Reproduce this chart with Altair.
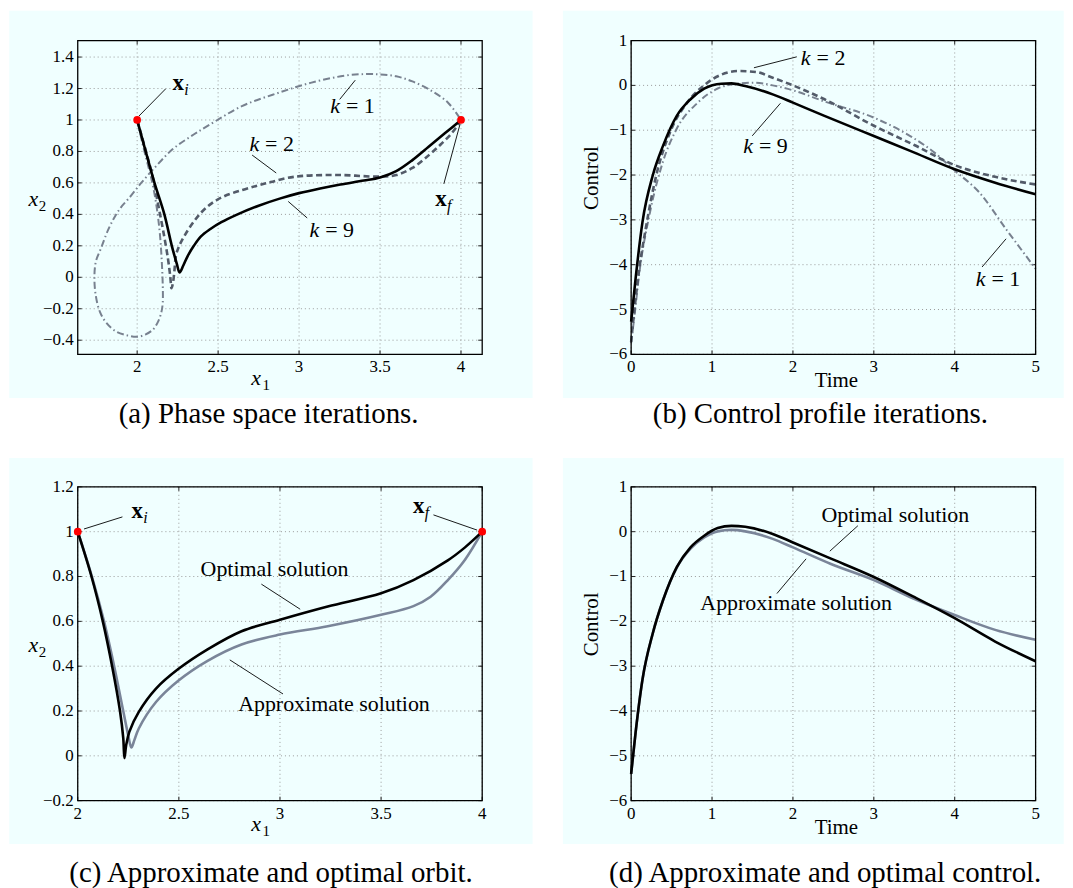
import altair as alt
import pandas as pd

FONT = "Liberation Serif"
W, H = 406, 315
BG = "#f0ffff"
GRID = "#9a9a9a"
C_K2 = "#535b69"
C_K1 = "#78818f"
C_APX = "#7a8599"

# ---------------- Panel (a): phase space iterations ----------------
a_k9_x = [2.0, 2.05, 2.107, 2.168, 2.214, 2.245, 2.262, 2.285, 2.312, 2.35, 2.394, 2.45, 2.52, 2.62,
          2.75, 2.88, 3.0, 3.13, 3.255, 3.4, 3.5, 3.6, 3.7, 3.8, 3.9, 4.0]
a_k9_y = [1.0, 0.81, 0.6, 0.4, 0.2, 0.085, 0.03, 0.075, 0.135, 0.2, 0.26, 0.305, 0.35, 0.4,
          0.455, 0.5, 0.535, 0.565, 0.59, 0.615, 0.635, 0.675, 0.745, 0.83, 0.915, 1.0]
a_k2_x = [2.0, 2.06, 2.1, 2.127, 2.16, 2.19, 2.205, 2.212, 2.222, 2.23, 2.24, 2.26, 2.29, 2.34, 2.394,
          2.46, 2.537, 2.65, 2.75, 2.825, 2.92, 3.03, 3.25, 3.5, 3.6, 3.7, 3.8, 3.88, 3.95, 4.0]
a_k2_y = [1.0, 0.78, 0.62, 0.476, 0.3, 0.12, 0.0, -0.07, -0.03, 0.04, 0.14, 0.2, 0.26, 0.34, 0.41,
          0.47, 0.515, 0.555, 0.585, 0.605, 0.63, 0.645, 0.65, 0.64, 0.65, 0.695, 0.775, 0.85, 0.925, 1.0]
a_k1_x = [2.0, 2.04, 2.075, 2.097, 2.12, 2.14, 2.152, 2.158, 2.158, 2.15, 2.13, 2.1, 2.05, 2.0, 1.94,
          1.87, 1.81, 1.77, 1.745, 1.736, 1.745, 1.777, 1.82, 1.862, 1.9, 1.947, 2.025, 2.12, 2.22,
          2.33, 2.435, 2.647, 2.859, 3.071, 3.283, 3.41, 3.5, 3.6, 3.7, 3.81, 3.92, 4.0]
a_k1_y = [1.0, 0.82, 0.68, 0.584, 0.45, 0.28, 0.1, -0.05, -0.16, -0.22, -0.28, -0.33, -0.365, -0.378,
          -0.37, -0.345, -0.29, -0.22, -0.12, -0.005, 0.1, 0.185, 0.3, 0.385, 0.445, 0.5, 0.6, 0.71,
          0.815, 0.895, 0.962, 1.088, 1.168, 1.236, 1.282, 1.292, 1.29, 1.278, 1.245, 1.19, 1.11, 1.0]
a_xticks = [2, 2.5, 3, 3.5, 4]
a_xtick_labels = ["2", "2.5", "3", "3.5", "4"]
a_yticks = [-0.4, -0.2, 0, 0.2, 0.4, 0.6, 0.8, 1.0, 1.2, 1.4]
a_ytick_labels = ["−0.4", "−0.2", "0", "0.2", "0.4", "0.6", "0.8", "1", "1.2", "1.4"]
a_klabels = [(3.326, 1.088, "= 1"), (2.827, 0.846, "= 2"), (3.198, 0.303, "= 9")]
a_xlabels = [(2.254, 1.236, "i"), (3.877, 0.499, "f")]
a_leaders = [(2.011, 1.025, 2.176, 1.198), (3.251, 1.131, 3.347, 1.253), (2.71, 0.777, 2.859, 0.663),
             (2.933, 0.482, 3.05, 0.377), (3.894, 0.594, 3.994, 0.973)]
a_points = [(2, 1), (4, 1)]

# ---------------- Panel (b): control profile iterations ----------------
b_k9_t = [0, 0.055, 0.14, 0.267, 0.394, 0.564, 0.734, 0.903, 1.115, 1.24, 1.41, 1.75, 2.0, 2.39, 3.0,
          3.45, 4.0, 4.5, 5.0]
b_k9_u = [-5.27, -4.31, -3.05, -2.01, -1.35, -0.68, -0.31, -0.074, 0.037, 0.044, -0.015, -0.2, -0.385,
          -0.68, -1.13, -1.46, -1.87, -2.17, -2.43]
b_k2_t = [0, 0.05, 0.1, 0.18, 0.31, 0.48, 0.69, 0.9, 1.115, 1.33, 1.54, 1.75, 2.0, 2.39, 3.0, 3.5,
          4.0, 4.5, 5.0]
b_k2_u = [-5.72, -4.85, -4.1, -3.2, -2.01, -1.05, -0.39, 0.0, 0.24, 0.32, 0.30, 0.17, 0.0, -0.31, -0.9,
          -1.33, -1.78, -2.04, -2.21]
b_k1_t = [0, 0.05, 0.1, 0.225, 0.39, 0.56, 0.82, 1.07, 1.33, 1.54, 1.75, 2.0, 2.39, 3.0, 3.45, 3.75,
          4.0, 4.3, 4.64, 5.0]
b_k1_u = [-5.75, -5.0, -4.2, -2.9, -1.72, -0.98, -0.39, -0.07, 0.04, 0.06, 0.0, -0.11, -0.36, -0.72,
          -1.13, -1.5, -1.9, -2.38, -3.22, -4.09]
b_xticks = [0, 1, 2, 3, 4, 5]
b_xtick_labels = ["0", "1", "2", "3", "4", "5"]
b_yticks = [-6, -5, -4, -3, -2, -1, 0, 1]
b_ytick_labels = ["−6", "−5", "−4", "−3", "−2", "−1", "0", "1"]
b_klabels = [(2.366, 0.615, "= 2"), (1.654, -1.348, "= 9"), (4.529, -4.311, "= 1")]
b_leaders = [(1.518, 0.393, 2.048, 0.637), (1.497, -1.126, 1.845, -0.40), (4.338, -4.052, 4.635, -3.422)]

# ---------------- Panel (c): approximate and optimal orbit ----------------
c_opt_x = [2.0, 2.068, 2.124, 2.17, 2.209, 2.225, 2.231, 2.24, 2.255, 2.302, 2.387, 2.497, 2.642, 2.81,
           3.0, 3.236, 3.5, 3.66, 3.83, 3.915, 4.0]
c_opt_y = [1.0, 0.8, 0.6, 0.4, 0.2, 0.08, -0.01, 0.05, 0.107, 0.196, 0.30, 0.387, 0.475, 0.556,
           0.607, 0.666, 0.725, 0.784, 0.872, 0.93, 1.0]
c_apx_x = [2.0, 2.07, 2.13, 2.18, 2.225, 2.25, 2.265, 2.28, 2.302, 2.387, 2.497, 2.642, 2.81, 3.0,
           3.236, 3.5, 3.66, 3.745, 3.83, 3.915, 4.0]
c_apx_y = [1.0, 0.8, 0.6, 0.4, 0.2, 0.09, 0.037, 0.07, 0.122, 0.24, 0.335, 0.424, 0.497, 0.541,
           0.578, 0.629, 0.668, 0.71, 0.784, 0.875, 1.0]
c_xticks = [2, 2.5, 3, 3.5, 4]
c_xtick_labels = ["2", "2.5", "3", "3.5", "4"]
c_yticks = [-0.2, 0, 0.2, 0.4, 0.6, 0.8, 1.0, 1.2]
c_ytick_labels = ["−0.2", "0", "0.2", "0.4", "0.6", "0.8", "1", "1.2"]
c_xlabels = [(2.294, 1.093, "i"), (3.686, 1.115, "f")]
c_texts = [(2.973, 0.835, "Optimal solution"), (3.267, 0.232, "Approximate solution")]
c_leaders = [(2.031, 1.012, 2.221, 1.066), (3.759, 1.075, 3.975, 1.007), (2.908, 0.766, 3.1, 0.654),
             (2.752, 0.428, 3.015, 0.276)]
c_points = [(2, 1), (4, 1)]

# ---------------- Panel (d): approximate and optimal control ----------------
d_t = [0, 0.055, 0.14, 0.267, 0.394, 0.564, 0.734, 0.903, 1.07, 1.24, 1.41, 1.75, 2.0, 2.47, 3.0,
       3.49, 4.0, 4.5, 5.0]
d_opt_u = [-5.4, -4.48, -3.3, -2.27, -1.53, -0.79, -0.35, -0.09, 0.08, 0.13, 0.11, -0.05, -0.24, -0.6,
           -1.01, -1.45, -1.93, -2.45, -2.89]
d_apx_u = [-5.4, -4.48, -3.3, -2.27, -1.53, -0.8, -0.38, -0.13, 0.007, 0.04, 0.007, -0.16, -0.35,
           -0.72, -1.08, -1.49, -1.86, -2.19, -2.41]
d_xticks = [0, 1, 2, 3, 4, 5]
d_xtick_labels = ["0", "1", "2", "3", "4", "5"]
d_yticks = [-6, -5, -4, -3, -2, -1, 0, 1]
d_ytick_labels = ["−6", "−5", "−4", "−3", "−2", "−1", "0", "1"]
d_texts = [(3.266, 0.376, "Optimal solution"), (2.04, -1.60, "Approximate solution")]
d_leaders = [(2.803, 0.133, 2.456, -0.435), (1.802, -1.38, 2.163, -0.605)]

captions = ["(a) Phase space iterations.", "(b) Control profile iterations.",
            "(c) Approximate and optimal orbit.", "(d) Approximate and optimal control."]


def line_df(xs, ys):
    return pd.DataFrame({"x": xs, "y": ys, "i": list(range(len(xs)))})


def txt(x, y, s, **kw):
    base = dict(font=FONT, color="black")
    base.update(kw)
    return alt.Chart(pd.DataFrame({"d": [0]})).mark_text(**base).encode(
        x=alt.value(x), y=alt.value(y), text=alt.value(s))


def build_panel(xdom, ydom, xticks, xtl, yticks, ytl, curves, interp, leaders, klabels, xlabels,
                texts, points, titles, bg, caption, cap_xy):
    xs = alt.Scale(domain=xdom, nice=False, zero=False)
    ys = alt.Scale(domain=ydom, nice=False, zero=False)
    one = pd.DataFrame({"d": [0]})
    gx = pd.DataFrame({"v": xticks, "lab": xtl})
    gy = pd.DataFrame({"v": yticks, "lab": ytl})
    L = []
    # panel background
    L.append(alt.Chart(one).mark_rect(fill=BG, strokeWidth=0).encode(
        x=alt.value(bg[0]), x2=alt.value(bg[1]), y=alt.value(bg[2]), y2=alt.value(bg[3])))
    # dotted grid
    gstyle = dict(color=GRID, strokeDash=[1, 3], strokeWidth=1)
    L.append(alt.Chart(gx).mark_rule(**gstyle).encode(
        x=alt.X("v:Q", scale=xs, axis=None), y=alt.value(0), y2=alt.value(H)))
    L.append(alt.Chart(gy).mark_rule(**gstyle).encode(
        y=alt.Y("v:Q", scale=ys, axis=None), x=alt.value(0), x2=alt.value(W)))
    # inward ticks on all four sides
    for y1, y2 in [(H, H - 4), (0, 4)]:
        L.append(alt.Chart(gx).mark_rule(color="#222222", strokeWidth=1).encode(
            x=alt.X("v:Q", scale=xs, axis=None), y=alt.value(y1), y2=alt.value(y2)))
    for x1, x2 in [(0, 4), (W - 4, W)]:
        L.append(alt.Chart(gy).mark_rule(color="#222222", strokeWidth=1).encode(
            y=alt.Y("v:Q", scale=ys, axis=None), x=alt.value(x1), x2=alt.value(x2)))
    # tick labels
    L.append(alt.Chart(gx).mark_text(font=FONT, fontSize=17, color="black", align="center",
                                     baseline="middle").encode(
        x=alt.X("v:Q", scale=xs, axis=None), y=alt.value(H + 13), text="lab:N"))
    L.append(alt.Chart(gy).mark_text(font=FONT, fontSize=17, color="black", align="right",
                                     baseline="middle").encode(
        y=alt.Y("v:Q", scale=ys, axis=None), x=alt.value(-4), text="lab:N"))
    # curves
    for cx, cy, style in curves:
        L.append(alt.Chart(line_df(cx, cy)).mark_line(interpolate=interp, strokeCap="butt",
                                                       strokeJoin="round", **style).encode(
            x=alt.X("x:Q", scale=xs, axis=None), y=alt.Y("y:Q", scale=ys, axis=None),
            order=alt.Order("i:Q")))
    # leader lines
    if leaders:
        ld = pd.DataFrame(leaders, columns=["x", "y", "x2", "y2"])
        L.append(alt.Chart(ld).mark_rule(color="black", strokeWidth=0.9).encode(
            x=alt.X("x:Q", scale=xs, axis=None), y=alt.Y("y:Q", scale=ys, axis=None),
            x2="x2:Q", y2="y2:Q"))
    # "k = n" labels
    if klabels:
        kd = pd.DataFrame(klabels, columns=["x", "y", "t"])
        base = alt.Chart(kd).encode(x=alt.X("x:Q", scale=xs, axis=None),
                                    y=alt.Y("y:Q", scale=ys, axis=None))
        L.append(base.mark_text(font=FONT, fontSize=22, fontStyle="italic", align="right",
                                baseline="middle", dx=-12, color="black").encode(text=alt.value("k")))
        L.append(base.mark_text(font=FONT, fontSize=22, align="left", baseline="middle", dx=-6,
                                color="black").encode(text="t:N"))
    # bold x with italic subscript
    if xlabels:
        xd = pd.DataFrame(xlabels, columns=["x", "y", "s"])
        base = alt.Chart(xd).encode(x=alt.X("x:Q", scale=xs, axis=None),
                                    y=alt.Y("y:Q", scale=ys, axis=None))
        L.append(base.mark_text(font=FONT, fontSize=23, fontWeight="bold", align="center",
                                baseline="middle", color="black").encode(text=alt.value("x")))
        L.append(base.mark_text(font=FONT, fontSize=16, fontStyle="italic", align="left",
                                baseline="middle", dx=6, dy=7, color="black").encode(text="s:N"))
    if texts:
        td = pd.DataFrame(texts, columns=["x", "y", "t"])
        L.append(alt.Chart(td).mark_text(font=FONT, fontSize=22, align="center", baseline="middle",
                                         color="black").encode(
            x=alt.X("x:Q", scale=xs, axis=None), y=alt.Y("y:Q", scale=ys, axis=None), text="t:N"))
    # frame
    L.append(alt.Chart(one).mark_rect(fill="transparent", stroke="black", strokeWidth=1.3).encode(
        x=alt.value(0), x2=alt.value(W), y=alt.value(0), y2=alt.value(H)))
    if points:
        pdf = pd.DataFrame(points, columns=["x", "y"])
        L.append(alt.Chart(pdf).mark_point(filled=True, color="#ff0000", size=60, opacity=1).encode(
            x=alt.X("x:Q", scale=xs, axis=None), y=alt.Y("y:Q", scale=ys, axis=None)))
    # axis titles
    L.extend(titles)
    # caption
    L.append(txt(cap_xy[0], cap_xy[1], caption, fontSize=29, align="center", baseline="alphabetic"))
    return alt.layer(*L).properties(width=W, height=H)


def titles_orbit():
    return [
        txt(179, H + 30.6, "x", fontSize=22, fontStyle="italic", align="center", baseline="alphabetic"),
        txt(185.5, H + 35.5, "1", fontSize=15, align="left", baseline="alphabetic"),
        txt(-44.6, 166, "x", fontSize=22, fontStyle="italic", align="center", baseline="alphabetic"),
        txt(-39.2, 171, "2", fontSize=15, align="left", baseline="alphabetic"),
    ]


def titles_control():
    return [
        txt(206, H + 27, "Time", fontSize=21, align="center", baseline="middle"),
        txt(-39, 138, "Control", fontSize=21, align="center", baseline="middle", angle=270),
    ]


S_K9 = dict(color="black", strokeWidth=2.6)
S_K2 = dict(color=C_K2, strokeWidth=2.6, strokeDash=[6, 3.5])
S_K1 = dict(color=C_K1, strokeWidth=2.0, strokeDash=[7, 3, 1.5, 3])
S_APX = dict(color=C_APX, strokeWidth=2.6)

pa = build_panel([1.633, 4.131], [-0.49, 1.505], a_xticks, a_xtick_labels, a_yticks, a_ytick_labels,
                 [(a_k1_x, a_k1_y, S_K1), (a_k2_x, a_k2_y, S_K2), (a_k9_x, a_k9_y, S_K9)],
                 "catmull-rom", a_leaders, a_klabels, a_xlabels, None, a_points, titles_orbit(),
                 (-68.8, 456.6, -30, 358.7), captions[0], (191.6, 383.7))
pb = build_panel([0, 5], [-6, 1], b_xticks, b_xtick_labels, b_yticks, b_ytick_labels,
                 [(b_k1_t, b_k1_u, S_K1), (b_k2_t, b_k2_u, S_K2), (b_k9_t, b_k9_u, S_K9)],
                 "monotone", b_leaders, b_klabels, None, None, None, titles_control(),
                 (-68.5, 434.2, -30, 358.7), captions[1], (190, 383.7))
pc = build_panel([2, 4], [-0.2, 1.2], c_xticks, c_xtick_labels, c_yticks, c_ytick_labels,
                 [(c_apx_x, c_apx_y, S_APX), (c_opt_x, c_opt_y, S_K9)],
                 "catmull-rom", c_leaders, None, c_xlabels, c_texts, c_points, titles_orbit(),
                 (-68.8, 456.6, -29, 358.6), captions[2], (194, 396.3))
pd_ = build_panel([0, 5], [-6, 1], d_xticks, d_xtick_labels, d_yticks, d_ytick_labels,
                  [(d_t, d_apx_u, S_APX), (d_t, d_opt_u, S_K9)],
                  "monotone", d_leaders, None, None, d_texts, None, titles_control(),
                  (-68.5, 434.2, -29, 358.6), captions[3], (194.8, 396.3))

chart = alt.concat(pa, pb, pc, pd_, columns=2, spacing={"row": 133, "column": 149.5},
                   bounds="flush").properties(padding=0, background="white").configure_view(
    stroke="transparent")

chart.save("out.html", embed_options={"renderer": "svg", "actions": False})
